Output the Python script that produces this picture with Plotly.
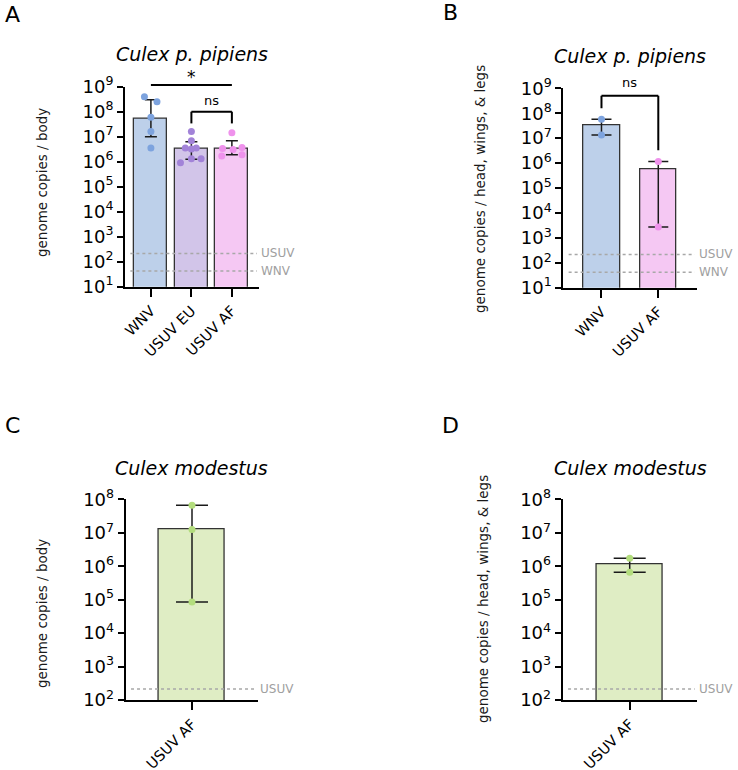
import math
import plotly.graph_objects as go

# ---------------- data ----------------
# A: Culex p. pipiens, genome copies / body
A_cats = ["WNV", "USUV EU", "USUV AF"]
A_median = [5.4e7, 3.4e6, 3.4e6]
A_err_hi = [3.0e8, 6.3e6, 6.9e6]
A_err_lo = [1.0e7, 1.26e6, 1.9e6]
A_wnv = [4.0e8, 2.5e8, 6.0e7, 1.6e7, 3.5e6]
A_usuv_eu = [1.6e7, 6.9e6, 3.5e6, 3.5e6, 3.2e6, 1.3e6, 1.3e6, 9.1e5]
A_usuv_af = [1.45e7, 3.4e6, 3.1e6, 3.7e6, 1.7e6, 1.9e6]

# B: Culex p. pipiens, genome copies / head, wings & legs
B_cats = ["WNV", "USUV AF"]
B_median = [3.2e7, 5.8e5]
B_err_hi = [5.7e7, 1.17e6]
B_err_lo = [1.33e7, 2.7e3]
B_wnv = [5.7e7, 1.33e7]
B_usuv_af = [1.17e6, 2.7e3]

# C: Culex modestus, body
C_cats = ["USUV AF"]
C_median = [1.26e7]
C_err_hi = [6.6e7]
C_err_lo = [8.5e4]
C_usuv_af = [6.6e7, 1.26e7, 8.5e4]

# D: Culex modestus, head, wings & legs
D_cats = ["USUV AF"]
D_median = [1.17e6]
D_err_hi = [1.74e6]
D_err_lo = [6.6e5]
D_usuv_af = [1.74e6, 6.6e5]

# detection limits
lod_usuv = 215
lod_wnv = 42

# horizontal spread of the dots (in category units)
A_wnv_jit = [-0.16, 0.15, 0, 0, 0]
A_eu_jit = [0, 0, -0.15, 0.12, 0, 0, 0.24, -0.27]
A_af_jit = [0, -0.23, 0.03, 0.25, -0.25, 0.25]

# colours
WNV_FILL, WNV_DOT = "#bdd0ea", "#7da3de"
EU_FILL, EU_DOT = "#d2c5e9", "#a283d8"
AF_FILL, AF_DOT = "#f5c8f3", "#ef92ec"
MOD_FILL, MOD_DOT = "#dfedc4", "#b3dd7d"

FONT = "DejaVu Sans"
W, H = 738, 770

fig = go.Figure()
annotations = []
shapes = []


def px(x):
    return x / W


def py(y):
    return 1 - y / H


def add_panel(n, cats, med, hi, lo, groups, fills, dots, bar_w, cap_w,
              xdom, ydom, xrange, yexp, lods):
    xa = "x" if n == 1 else f"x{n}"
    ya = "y" if n == 1 else f"y{n}"
    idx = list(range(len(cats)))
    fig.add_trace(go.Bar(
        x=idx, y=med, width=bar_w,
        marker=dict(color=fills, line=dict(color="#333333", width=1.3)),
        error_y=dict(type="data", symmetric=False,
                     array=[h - m for h, m in zip(hi, med)],
                     arrayminus=[m - l for m, l in zip(med, lo)],
                     color="#1a1a1a", thickness=1.5, width=cap_w),
        xaxis=xa, yaxis=ya, showlegend=False))
    for i, (vals, jit) in enumerate(groups):
        fig.add_trace(go.Scatter(
            x=[i + j for j in jit], y=vals, mode="markers",
            marker=dict(color=dots[i], size=7),
            cliponaxis=False, xaxis=xa, yaxis=ya, showlegend=False))

    key = "" if n == 1 else str(n)
    fig.update_layout(**{
        f"xaxis{key}": dict(
            domain=xdom, anchor=ya, range=xrange, tickmode="array",
            tickvals=idx, ticktext=cats, tickangle=-45, automargin=False,
            showline=True, linecolor="black", linewidth=2,
            ticks="outside", ticklen=8, tickwidth=2, tickcolor="black",
            showgrid=False, zeroline=False,
            tickfont=dict(family=FONT, size=14.5, color="black")),
        f"yaxis{key}": dict(
            domain=ydom, anchor=xa, type="log", range=[yexp[0], yexp[-1]],
            tickmode="array", tickvals=[10 ** e for e in yexp],
            ticktext=[f"10<sup>{e}</sup>" for e in yexp], automargin=False,
            showline=True, linecolor="black", linewidth=2,
            ticks="outside", ticklen=6, tickwidth=2, tickcolor="black",
            showgrid=False, zeroline=False,
            tickfont=dict(family=FONT, size=18, color="black")),
    })

    for label, val in lods:
        shapes.append(dict(type="line", xref=f"{xa} domain", yref=ya,
                           x0=0.04, x1=0.985, y0=val, y1=val,
                           line=dict(color="#a8a8a8", width=1.5, dash="dot")))
        annotations.append(dict(text=label, xref=f"{xa} domain", yref=ya,
                                x=1.0, y=math.log10(val), xanchor="left",
                                yanchor="middle", showarrow=False,
                                font=dict(family=FONT, size=12, color="#a0a0a0")))
    return xa, ya


def bracket(xa, ya, yexp, l, r, top, left_end, right_end, text, size, yshift):
    lo_e, hi_e = yexp[0], yexp[-1]

    def f(v):
        return (math.log10(v) - lo_e) / (hi_e - lo_e)
    line = dict(color="black", width=2)
    shapes.append(dict(type="line", xref=xa, yref=f"{ya} domain",
                       x0=l, x1=r, y0=f(top), y1=f(top), line=line))
    if left_end != top:
        shapes.append(dict(type="line", xref=xa, yref=f"{ya} domain",
                           x0=l, x1=l, y0=f(top), y1=f(left_end), line=line))
    if right_end != top:
        shapes.append(dict(type="line", xref=xa, yref=f"{ya} domain",
                           x0=r, x1=r, y0=f(top), y1=f(right_end), line=line))
    annotations.append(dict(text=text, xref=xa, yref=f"{ya} domain",
                            x=(l + r) / 2, y=f(top), yanchor="bottom",
                            yshift=yshift, showarrow=False,
                            font=dict(family=FONT, size=size, color="black")))


exp_AB = list(range(1, 10))
exp_CD = list(range(2, 9))

xa, ya = add_panel(1, A_cats, A_median, A_err_hi, A_err_lo,
                   [(A_wnv, A_wnv_jit), (A_usuv_eu, A_eu_jit), (A_usuv_af, A_af_jit)],
                   [WNV_FILL, EU_FILL, AF_FILL], [WNV_DOT, EU_DOT, AF_DOT],
                   0.815, 6, [px(125), px(259)], [py(286.7), py(86.7)],
                   [-0.64, 2.67], exp_AB, [("USUV", lod_usuv), ("WNV", lod_wnv)])
bracket(xa, ya, exp_AB, 0, 2, 1.17e9, 1.17e9, 1.17e9, "*", 17, -4)
bracket(xa, ya, exp_AB, 1, 2, 1.0e8, 3.4e7, 3.4e7, "ns", 13, 2)

xa, ya = add_panel(2, B_cats, B_median, B_err_hi, B_err_lo,
                   [(B_wnv, [0, 0]), (B_usuv_af, [0, 0])],
                   [WNV_FILL, AF_FILL], [WNV_DOT, AF_DOT],
                   0.65, 10, [px(563.3), px(696.7)], [py(287.7), py(88.3)],
                   [-0.672, 1.676], exp_AB, [("USUV", lod_usuv), ("WNV", lod_wnv)])
bracket(xa, ya, exp_AB, 0, 1, 5.0e8, 1.6e8, 3.3e6, "ns", 13, 4)

add_panel(3, C_cats, C_median, C_err_hi, C_err_lo,
          [(C_usuv_af, [0, 0, 0])], [MOD_FILL], [MOD_DOT],
          1.0, 16, [px(125.7), px(258.3)], [py(700), py(499.3)],
          [-1, 1], exp_CD, [("USUV", lod_usuv)])

add_panel(4, D_cats, D_median, D_err_hi, D_err_lo,
          [(D_usuv_af, [0, 0])], [MOD_FILL], [MOD_DOT],
          0.976, 16, [px(562.7), px(696.7)], [py(700), py(499.3)],
          [-1, 1], exp_CD, [("USUV", lod_usuv)])

# titles, y-axis titles, panel letters
titles = ["Culex p. pipiens", "Culex p. pipiens", "Culex modestus", "Culex modestus"]
ytitles = ["genome copies / body", "genome copies / head, wings, & legs",
           "genome copies / body", "genome copies / head, wings, & legs"]
letters = ["A", "B", "C", "D"]
title_pos = [(192, 54), (630, 56), (191.7, 468), (630, 468)]
ytitle_pos = [(42, 183), (480, 189), (42, 614), (483, 599)]
letter_pos = [(12, 14), (450, 13), (12, 425), (450, 425)]

for t, (x, y) in zip(titles, title_pos):
    annotations.append(dict(text=f"<i>{t}</i>", xref="paper", yref="paper",
                            x=px(x), y=py(y), xanchor="center", yanchor="middle",
                            showarrow=False,
                            font=dict(family=FONT, size=19, color="black")))
for t, (x, y) in zip(ytitles, ytitle_pos):
    annotations.append(dict(text=t, xref="paper", yref="paper", textangle=-90,
                            x=px(x), y=py(y), xanchor="center", yanchor="middle",
                            showarrow=False,
                            font=dict(family=FONT, size=13.5, color="#1a1a1a")))
for t, (x, y) in zip(letters, letter_pos):
    annotations.append(dict(text=t, xref="paper", yref="paper",
                            x=px(x), y=py(y), xanchor="center", yanchor="middle",
                            showarrow=False,
                            font=dict(family=FONT, size=22, color="black")))

fig.update_layout(width=W, height=H, autosize=False,
                  margin=dict(l=0, r=0, t=0, b=0),
                  paper_bgcolor="white", plot_bgcolor="white",
                  bargap=0, annotations=annotations, shapes=shapes)

# drop the browser's default 8px page margin so the figure sits at (0, 0)
fig.write_html("out.html", config={"displayModeBar": False},
               post_script="document.body.style.margin = '0';")
